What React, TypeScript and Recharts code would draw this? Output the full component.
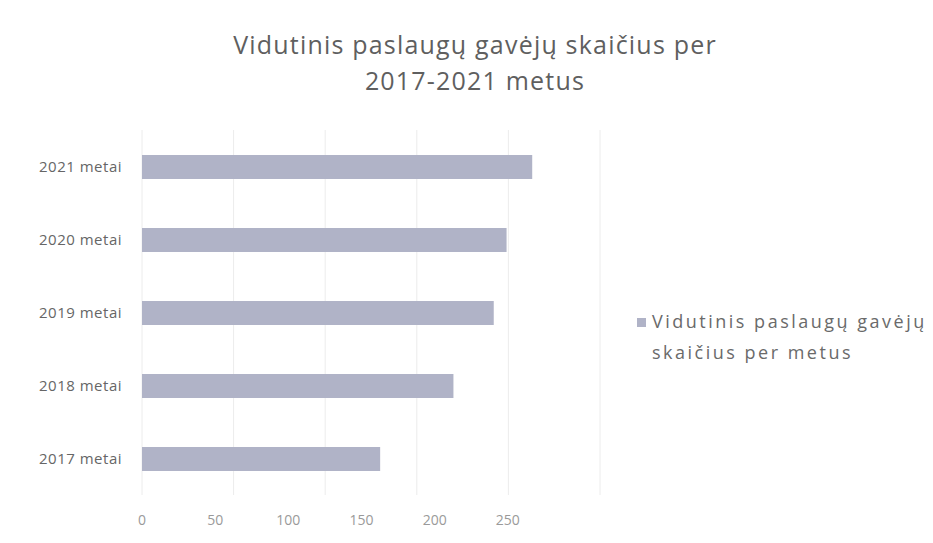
import { Bar, BarChart, CartesianGrid, XAxis, YAxis } from "recharts";

const years = ["2017 metai", "2018 metai", "2019 metai", "2020 metai", "2021 metai"];
const recipients = [130, 170, 192, 199, 213];
const xTicks = [0, 50, 100, 150, 200, 250];

const seriesName = "Vidutinis paslaugų gavėjų skaičius per metus";

const data = years.map((name, i) => ({ name, value: recipients[i] }));

const font = "'Open Sans', 'DejaVu Sans', sans-serif";
const barColor = "#b0b3c7";

function LegendBox() {
  return (
    <div
      style={{
        position: "absolute",
        left: 637,
        top: 306,
        fontFamily: font,
        fontSize: 18,
        letterSpacing: 2.5,
        color: "#6a6a6a",
        lineHeight: "31px",
        width: 300,
        paddingLeft: 15,
      }}
    >
      <span
        style={{
          position: "absolute",
          left: 0,
          top: 12,
          width: 9,
          height: 9,
          background: barColor,
        }}
      />
      Vidutinis paslaugų gavėjų
      <br />
      skaičius per metus
    </div>
  );
}

export default function App() {
  return (
    <div
      style={{
        position: "absolute",
        left: 0,
        top: 0,
        width: 933,
        height: 543,
        background: "#fff",
      }}
    >
      <div
        style={{
          position: "absolute",
          left: 0,
          top: 26,
          width: 950,
          textAlign: "center",
          fontFamily: font,
          fontSize: 25,
          letterSpacing: 1.2,
          lineHeight: "36px",
          color: "#5f5f5f",
        }}
      >
        Vidutinis paslaugų gavėjų skaičius per
        <br />
        2017-2021 metus
      </div>
      <BarChart
        width={933}
        height={543}
        data={data}
        layout="vertical"
        margin={{ top: 130, right: 333, bottom: 18, left: 0 }}
        barCategoryGap={0}
      >
        <CartesianGrid horizontal={false} stroke="#ececec" />
        <XAxis
          type="number"
          domain={[0, 250]}
          ticks={xTicks}
          height={0}
          hide
        />
        {/* the scanned tick labels sit on a squeezed scale */}
        <XAxis
          xAxisId="labels"
          type="number"
          domain={[0, 313]}
          ticks={xTicks}
          allowDataOverflow
          axisLine={false}
          tickLine={false}
          tickMargin={14}
          height={30}
          tick={{ fill: "#9a9a9a", fontSize: 14, fontFamily: font }}
        />
        <YAxis
          type="category"
          dataKey="name"
          reversed
          width={142}
          axisLine={false}
          tickLine={false}
          tickMargin={14}
          tick={{ fill: "#666", fontSize: 15, fontFamily: font, letterSpacing: 0.5 }}
        />
        <Bar
          dataKey="value"
          name={seriesName}
          fill={barColor}
          barSize={24}
          isAnimationActive={false}
        />
      </BarChart>
      <LegendBox />
    </div>
  );
}
